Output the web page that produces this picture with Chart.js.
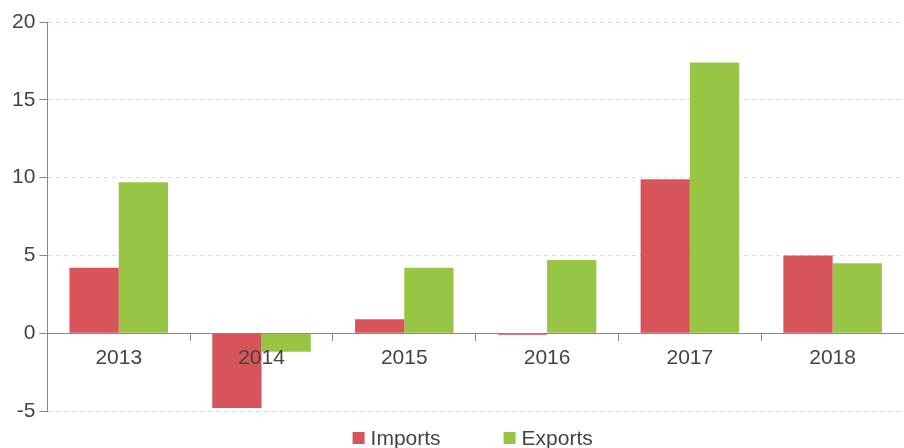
<!DOCTYPE html>
<html>
<head>
<meta charset="utf-8">
<script src="https://cdn.jsdelivr.net/npm/chart.js@4"></script>
<style>
  html, body { margin: 0; padding: 0; background: #fff; }
  #wrap { width: 904px; height: 448px; }
</style>
</head>
<body>
<div id="wrap"><canvas id="myChart"></canvas></div>
<script>
var years = ["2013", "2014", "2015", "2016", "2017", "2018"];
var imports = [4.2, -4.8, 0.9, -0.1, 9.9, 5.0];
var exports = [9.7, -1.2, 4.2, 4.7, 17.4, 4.5];
var yTicks = [-5, 0, 5, 10, 15, 20];

Chart.defaults.font.family = "'Liberation Sans', Arial, sans-serif";
Chart.defaults.font.size = 21;
Chart.defaults.color = "#444";

// legend drawn below the plot, roughly centred on the chart area, with wide gaps
var bottomLegend = {
    id: "bottomLegend",
    afterDraw: function (chart) {
        var c = chart.ctx;
        var area = chart.chartArea;
        var sets = chart.data.datasets;
        var box = 12, gap = 6, spacing = 63;
        c.save();
        c.font = "21px 'Liberation Sans', Arial, sans-serif";
        c.textBaseline = "middle";
        c.textAlign = "left";
        var widths = sets.map(function (d) {
            return box + gap + c.measureText(d.label).width;
        });
        var total = widths.reduce(function (a, b) { return a + b; }, 0) + spacing * (sets.length - 1);
        var x = (area.left + area.right) / 2 - total / 2 - 3;
        var y = area.bottom + 27;
        sets.forEach(function (d, i) {
            c.fillStyle = d.backgroundColor;
            c.fillRect(x, y - box / 2, box, box);
            c.fillStyle = "#444";
            c.fillText(d.label, x + box + gap, y + 1);
            x += widths[i] + spacing;
        });
        c.restore();
    },
};

var ctx = document.getElementById("myChart").getContext("2d");

var myChart = new Chart(ctx, {
    type: "bar",
    data: {
        labels: years,
        datasets: [
            {
                label: "Imports",
                data: imports,
                backgroundColor: "#d6545a",
                categoryPercentage: 0.69,
                barPercentage: 1,
            },
            {
                label: "Exports",
                data: exports,
                backgroundColor: "#99c544",
                categoryPercentage: 0.69,
                barPercentage: 1,
            },
        ],
    },
    options: {
        responsive: true,
        maintainAspectRatio: false,
        animation: false,
        layout: {
            padding: { left: 8, right: 0, top: 22, bottom: 37 },
        },
        plugins: {
            tooltip: { enabled: false },
            legend: { display: false },
        },
        scales: {
            x: {
                position: { y: 0 },
                afterFit: function (scale) {
                    scale.height = 0;
                },
                grid: {
                    drawOnChartArea: false,
                    drawTicks: true,
                    tickLength: 7,
                    tickColor: "#888",
                    offset: true,
                },
                border: { color: "#888", width: 1 },
                ticks: { padding: 5, color: "#444", z: 1 },
            },
            y: {
                min: yTicks[0],
                max: yTicks[yTicks.length - 1],
                afterBuildTicks: function (scale) {
                    scale.ticks = yTicks.map(function (v) { return { value: v }; });
                },
                grid: {
                    color: function (c) {
                        return c.tick && c.tick.value === 0 ? "rgba(0,0,0,0)" : "#c2e4f0";
                    },
                    tickColor: "#888",
                    tickLength: 8,
                    tickBorderDash: [],
                },
                border: { color: "#888", width: 1, dash: [4, 4] },
                ticks: { padding: 4, color: "#444" },
            },
        },
    },
    plugins: [bottomLegend],
});
</script>
</body>
</html>
